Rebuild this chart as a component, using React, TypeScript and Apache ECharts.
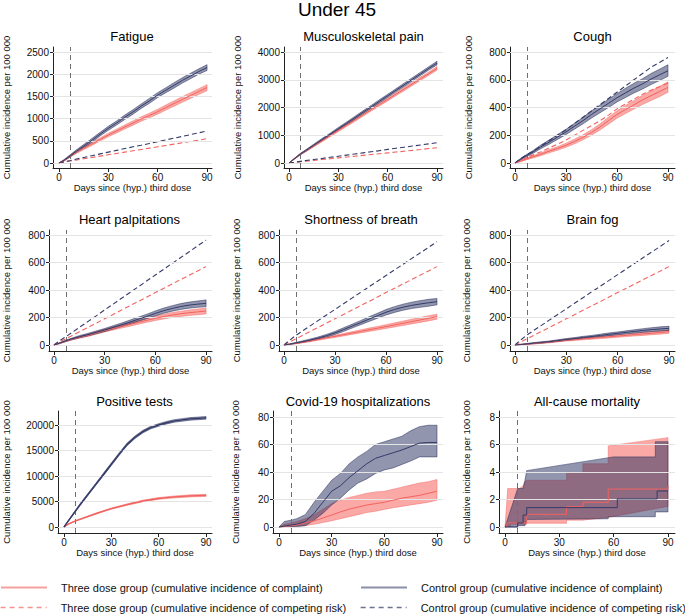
import React, { useEffect, useRef } from "react";
import * as echarts from "echarts";

// ---------- data ----------
const DAYS = [0, 3, 7, 10, 15, 20, 25, 30, 35, 40, 45, 50, 55, 60, 65, 70, 75, 80, 85, 90];
const X_TICKS = [0, 30, 60, 90];

const N_R = "Three dose group (cumulative incidence of complaint)";
const N_N = "Control group (cumulative incidence of complaint)";
const N_RC = "Three dose group (cumulative incidence of competing risk)";
const N_NC = "Control group (cumulative incidence of competing risk)";

// Fatigue
const fatNMid = [0, 60, 165, 250, 380, 510, 650, 780, 900, 1030, 1150, 1280, 1400, 1530, 1640, 1750, 1860, 1960, 2060, 2150];
const fatNLo = [0, 45, 140, 220, 345, 470, 610, 735, 855, 980, 1100, 1230, 1345, 1475, 1585, 1690, 1800, 1900, 2000, 2085];
const fatNUp = [0, 75, 190, 280, 415, 550, 690, 825, 945, 1080, 1200, 1330, 1455, 1585, 1695, 1810, 1920, 2020, 2120, 2215];
const fatRMid = [0, 55, 160, 230, 330, 430, 530, 630, 720, 810, 900, 990, 1070, 1155, 1250, 1340, 1430, 1520, 1610, 1700];
const fatRLo = [0, 42, 138, 205, 300, 395, 495, 590, 678, 765, 852, 940, 1018, 1100, 1192, 1280, 1368, 1455, 1545, 1630];
const fatRUp = [0, 68, 182, 255, 360, 465, 565, 670, 762, 855, 948, 1040, 1122, 1210, 1308, 1400, 1492, 1585, 1675, 1765];
const fatNComp = [0, 25, 55, 85, 125, 165, 205, 245, 285, 325, 365, 400, 440, 480, 520, 560, 600, 640, 680, 720];
const fatRComp = [0, 20, 45, 65, 95, 125, 155, 185, 215, 245, 275, 305, 335, 365, 395, 425, 455, 485, 515, 550];

// Musculoskeletal pain
const musNMid = [0, 140, 325, 440, 640, 840, 1035, 1235, 1430, 1630, 1830, 2025, 2225, 2420, 2620, 2815, 3015, 3210, 3410, 3600];
const musNLo = [0, 125, 300, 410, 605, 800, 995, 1190, 1385, 1580, 1780, 1975, 2170, 2365, 2565, 2755, 2955, 3150, 3350, 3535];
const musNUp = [0, 155, 350, 470, 675, 880, 1075, 1280, 1475, 1680, 1880, 2075, 2280, 2475, 2675, 2875, 3075, 3270, 3470, 3665];
const musRMid = [0, 138, 320, 430, 615, 800, 990, 1175, 1360, 1545, 1735, 1920, 2105, 2290, 2480, 2665, 2850, 3035, 3220, 3410];
const musRLo = [0, 123, 295, 400, 580, 760, 950, 1130, 1315, 1495, 1685, 1870, 2050, 2235, 2425, 2605, 2790, 2975, 3160, 3345];
const musRUp = [0, 153, 345, 460, 650, 840, 1030, 1220, 1405, 1595, 1785, 1970, 2160, 2345, 2535, 2725, 2910, 3095, 3280, 3475];
const musNComp = [0, 25, 60, 85, 125, 165, 205, 245, 285, 325, 365, 405, 445, 490, 530, 570, 610, 650, 690, 730];
const musRComp = [0, 20, 45, 65, 95, 125, 155, 185, 215, 245, 275, 305, 335, 365, 395, 425, 455, 485, 520, 550];

// Cough
const cghNMid = [0, 25, 55, 75, 115, 150, 187, 224, 265, 305, 350, 390, 430, 470, 505, 540, 570, 605, 635, 665];
const cghNLo = [0, 20, 47, 65, 102, 135, 170, 205, 244, 282, 324, 362, 400, 440, 472, 505, 533, 565, 594, 625];
const cghNUp = [0, 30, 63, 85, 128, 165, 204, 243, 286, 328, 376, 418, 460, 500, 538, 575, 607, 645, 676, 708];
const cghRMid = [0, 12, 30, 42, 62, 85, 105, 128, 155, 185, 220, 260, 305, 350, 385, 420, 455, 485, 515, 545];
const cghRLo = [0, 8, 24, 34, 52, 73, 92, 113, 138, 167, 200, 238, 280, 323, 356, 389, 422, 450, 478, 510];
const cghRUp = [0, 16, 36, 50, 72, 97, 118, 143, 172, 203, 240, 282, 330, 377, 414, 451, 488, 520, 552, 585];
const cghNComp = [0, 30, 60, 80, 120, 160, 200, 240, 285, 330, 375, 420, 465, 510, 555, 600, 645, 690, 725, 760];
const cghRComp = [0, 18, 40, 55, 80, 108, 135, 165, 200, 235, 270, 305, 345, 390, 425, 460, 495, 525, 550, 575];

// Heart palpitations
const hrtNMid = [0, 12, 30, 42, 60, 75, 92, 109, 128, 147, 167, 188, 208, 230, 250, 266, 280, 290, 297, 303];
const hrtNLo = [0, 9, 25, 36, 52, 66, 82, 98, 116, 134, 153, 173, 192, 212, 231, 246, 259, 268, 274, 278];
const hrtNUp = [0, 15, 35, 48, 68, 84, 102, 120, 140, 160, 181, 203, 224, 248, 269, 286, 301, 312, 320, 328];
const hrtRMid = [0, 11, 28, 40, 56, 70, 87, 105, 120, 135, 150, 165, 180, 194, 207, 218, 227, 235, 241, 247];
const hrtRLo = [0, 8, 24, 35, 49, 62, 78, 95, 109, 123, 137, 151, 165, 178, 190, 200, 208, 215, 220, 226];
const hrtRUp = [0, 14, 32, 45, 63, 78, 96, 115, 131, 147, 163, 179, 195, 210, 224, 236, 246, 255, 262, 268];
const hrtNComp = [0, 28, 60, 85, 128, 170, 212, 255, 297, 340, 382, 424, 467, 509, 551, 594, 636, 678, 721, 763];
const hrtRComp = [0, 20, 45, 64, 96, 127, 159, 191, 222, 254, 286, 317, 349, 381, 412, 444, 476, 507, 539, 570];

// Shortness of breath
const sobNMid = [0, 5, 15, 22, 35, 50, 68, 88, 112, 137, 162, 188, 213, 238, 258, 275, 288, 298, 307, 315];
const sobNLo = [0, 3, 11, 17, 28, 42, 59, 77, 99, 123, 147, 171, 195, 218, 237, 253, 265, 274, 282, 292];
const sobNUp = [0, 7, 19, 27, 42, 58, 77, 99, 125, 151, 177, 205, 231, 258, 279, 297, 311, 322, 332, 338];
const sobRMid = [0, 5, 12, 18, 28, 40, 52, 63, 75, 87, 99, 111, 122, 134, 146, 158, 170, 182, 194, 206];
const sobRLo = [0, 3, 9, 14, 23, 34, 45, 55, 66, 77, 88, 99, 109, 120, 131, 142, 153, 164, 175, 188];
const sobRUp = [0, 7, 15, 22, 33, 46, 59, 71, 84, 97, 110, 123, 135, 148, 161, 174, 187, 200, 213, 224];
const sobNComp = [0, 32, 70, 95, 136, 177, 218, 259, 300, 341, 382, 423, 464, 505, 546, 587, 628, 669, 710, 751];
const sobRComp = [0, 20, 45, 64, 96, 127, 159, 191, 222, 254, 286, 317, 349, 381, 412, 444, 476, 507, 539, 570];

// Brain fog
const bfNMid = [0, 3, 8, 12, 18, 24, 32, 40, 47, 55, 62, 70, 78, 85, 92, 99, 106, 112, 117, 121];
const bfNLo = [0, 1, 5, 8, 13, 19, 26, 33, 40, 47, 54, 61, 68, 75, 81, 87, 93, 98, 102, 106];
const bfNUp = [0, 5, 11, 16, 23, 29, 38, 47, 54, 63, 70, 79, 88, 95, 103, 111, 119, 126, 132, 136];
const bfRMid = [0, 3, 7, 10, 15, 21, 28, 35, 40, 45, 50, 55, 60, 65, 70, 76, 81, 86, 91, 97];
const bfRLo = [0, 1, 4, 7, 11, 16, 22, 29, 33, 38, 42, 47, 51, 56, 61, 66, 70, 75, 79, 85];
const bfRUp = [0, 5, 10, 13, 19, 26, 34, 41, 47, 52, 58, 63, 69, 74, 79, 86, 92, 97, 103, 109];
const bfNComp = [0, 33, 73, 98, 139, 181, 222, 263, 305, 346, 388, 429, 470, 512, 553, 594, 636, 677, 718, 760];
const bfRComp = [0, 20, 45, 64, 96, 127, 159, 191, 222, 254, 286, 317, 349, 381, 412, 444, 476, 507, 539, 570];

// Positive tests
const posNMid = [0, 1300, 3000, 4300, 6300, 8300, 10300, 12300, 14300, 16200, 17600, 18700, 19500, 20000, 20450, 20800, 21000, 21200, 21300, 21400];
const posNLo = [0, 1200, 2850, 4100, 6100, 8100, 10050, 12050, 14050, 15950, 17350, 18450, 19250, 19750, 20200, 20550, 20750, 20950, 21050, 21150];
const posNUp = [0, 1400, 3150, 4500, 6500, 8500, 10550, 12550, 14550, 16450, 17850, 18950, 19750, 20250, 20700, 21050, 21250, 21450, 21550, 21650];
const posRMid = [0, 600, 1150, 1500, 2050, 2600, 3100, 3600, 4000, 4400, 4750, 5100, 5350, 5600, 5750, 5900, 6000, 6100, 6150, 6200];
const posRLo = [0, 550, 1080, 1420, 1960, 2500, 2990, 3480, 3870, 4260, 4600, 4940, 5180, 5420, 5570, 5710, 5800, 5900, 5950, 5990];
const posRUp = [0, 650, 1220, 1580, 2140, 2700, 3210, 3720, 4130, 4540, 4900, 5260, 5520, 5780, 5930, 6090, 6200, 6300, 6350, 6410];

// Covid-19 hospitalizations
const hosNMid = [0, 0.6, 1.5, 2, 4, 10, 18, 26, 30, 36, 41, 46, 50, 52, 54, 56, 58.5, 61, 61.5, 61.5];
const hosNLo = [0, 0, 0, 0.3, 1, 5, 10, 16, 21, 27, 32, 35, 39, 41.5, 43, 45.5, 48, 51, 51, 51];
const hosNUp = [0, 4, 5, 6, 9, 18, 26, 34, 39, 46, 51, 55, 60, 62, 64, 66, 70, 73, 74, 74];
const hosRMid = [0, 0.3, 1, 1.5, 3, 4.5, 6.5, 8.7, 11, 13, 14.5, 16, 17, 18, 19.5, 21, 22, 23, 24.5, 26];
const hosRLo = [0, 0, 0.2, 0.5, 1, 2, 3.2, 4.5, 6, 7.5, 9, 10.5, 11.5, 12.8, 14, 15, 16, 17, 18, 19.5];
const hosRUp = [0, 2, 3, 4, 6, 9, 13, 17, 19.5, 21.5, 23, 24.5, 25.5, 26, 27.5, 29, 30.5, 32, 33, 34.5];

// All-cause mortality ([day, value] step points)
const morRMid = [[0, 0], [1, 0], [1, 0.3], [12, 0.3], [12, 0.92], [34, 0.92], [34, 1.48], [43, 1.48], [43, 1.8], [57, 1.8], [57, 2.76], [90, 2.76], [90, 3.0]];
const morRUp = [[0, 0], [1.5, 2.8], [8, 2.8], [10, 3.0], [11, 3.3], [12, 3.4], [34, 3.4], [34, 3.9], [43, 3.9], [43, 4.6], [57, 4.6], [57, 5.9], [90, 6.5]];
const morRLo = [[0, 0], [3, 0], [3, 0.2], [12, 0.2], [12, 0.27], [34, 0.27], [34, 0.5], [43, 0.5], [57, 0.7], [90, 1.5]];
const morNMid = [[0, 0], [7, 0], [7, 0.3], [10, 0.3], [10, 0.87], [12, 0.87], [12, 1.41], [62, 1.41], [62, 2.04], [84, 2.04], [84, 2.62], [90, 2.62]];
const morNUp = [[0, 0], [7, 2.8], [10, 2.8], [11, 3.4], [12, 4.1], [60, 5.1], [83, 5.1], [83, 6.2], [90, 6.2]];
const morNLo = [[0, 0], [7, 0], [7, 0.1], [11, 0.1], [12, 0.55], [57, 0.6], [57, 0.75], [83, 0.75], [83, 1.1], [90, 1.1]];

const Y_TICKS_FAT = [0, 500, 1000, 1500, 2000, 2500];
const Y_TICKS_MUS = [0, 1000, 2000, 3000, 4000];
const Y_TICKS_800 = [0, 200, 400, 600, 800];
const Y_TICKS_POS = [0, 5000, 10000, 15000, 20000];
const Y_TICKS_HOS = [0, 20, 40, 60, 80];
const Y_TICKS_MOR = [0, 2, 4, 6, 8];

// ---------- styles ----------
const FONT = "Liberation Sans, Arial, Helvetica, sans-serif";
const RED = "#f2625e";
const NAVY = "#343b69";
const RED_BAND = "rgba(248,90,85,0.52)";
const RED_EDGE = "rgba(240,95,90,0.55)";
const NAVY_BAND = "rgba(40,48,95,0.51)";
const NAVY_EDGE = "rgba(40,46,90,0.65)";

const pairs = (vals: number[]) => DAYS.map((d, i) => [d, vals[i]]);

type Layout = { gl: number; gr: number; x0: number; x90: number; top: number; bottom: number; y0: number; yT: number; nameGap: number };

const ROW1 = { top: 47, bottom: 168, y0: 163, yT: 52 };
const ROW2 = { top: 230, bottom: 351, y0: 345, yT: 235 };
const ROW3 = { top: 411, bottom: 533, y0: 527 };

const panels: any[] = [
  { title: "Fatigue", titleTop: 30, yTicks: Y_TICKS_FAT, L: { gl: 52, gr: 212, x0: 58, x90: 207, ...ROW1, nameGap: 42 },
    rBand: [pairs(fatRUp), pairs(fatRLo)], nBand: [pairs(fatNUp), pairs(fatNLo)],
    rMid: pairs(fatRMid), nMid: pairs(fatNMid), rComp: pairs(fatRComp), nComp: pairs(fatNComp) },
  { title: "Musculoskeletal pain", titleTop: 30, yTicks: Y_TICKS_MUS, L: { gl: 284, gr: 443, x0: 289, x90: 437, ...ROW1, nameGap: 42 },
    rBand: [pairs(musRUp), pairs(musRLo)], nBand: [pairs(musNUp), pairs(musNLo)],
    rMid: pairs(musRMid), nMid: pairs(musNMid), rComp: pairs(musRComp), nComp: pairs(musNComp) },
  { title: "Cough", titleTop: 30, yTicks: Y_TICKS_800, L: { gl: 510, gr: 675, x0: 515, x90: 668, ...ROW1, nameGap: 37 },
    rBand: [pairs(cghRUp), pairs(cghRLo)], nBand: [pairs(cghNUp), pairs(cghNLo)],
    rMid: pairs(cghRMid), nMid: pairs(cghNMid), rComp: pairs(cghRComp), nComp: pairs(cghNComp) },
  { title: "Heart palpitations", titleTop: 213, yTicks: Y_TICKS_800, L: { gl: 47, gr: 212, x0: 52, x90: 206, ...ROW2, nameGap: 38 },
    rBand: [pairs(hrtRUp), pairs(hrtRLo)], nBand: [pairs(hrtNUp), pairs(hrtNLo)],
    rMid: pairs(hrtRMid), nMid: pairs(hrtNMid), rComp: pairs(hrtRComp), nComp: pairs(hrtNComp) },
  { title: "Shortness of breath", titleTop: 213, yTicks: Y_TICKS_800, L: { gl: 279, gr: 443, x0: 284, x90: 437, ...ROW2, nameGap: 38 },
    rBand: [pairs(sobRUp), pairs(sobRLo)], nBand: [pairs(sobNUp), pairs(sobNLo)],
    rMid: pairs(sobRMid), nMid: pairs(sobNMid), rComp: pairs(sobRComp), nComp: pairs(sobNComp) },
  { title: "Brain fog", titleTop: 213, yTicks: Y_TICKS_800, L: { gl: 510, gr: 675, x0: 515, x90: 669, ...ROW2, nameGap: 39 },
    rBand: [pairs(bfRUp), pairs(bfRLo)], nBand: [pairs(bfNUp), pairs(bfNLo)],
    rMid: pairs(bfRMid), nMid: pairs(bfNMid), rComp: pairs(bfRComp), nComp: pairs(bfNComp) },
  { title: "Positive tests", titleTop: 395, yTicks: Y_TICKS_POS, L: { gl: 57, gr: 212, x0: 63, x90: 206, ...ROW3, yT: 425, nameGap: 47 },
    rBand: [pairs(posRUp), pairs(posRLo)], nBand: [pairs(posNUp), pairs(posNLo)],
    rMid: pairs(posRMid), nMid: pairs(posNMid), midWidth: 1.4 },
  { title: "Covid-19 hospitalizations", titleTop: 395, yTicks: Y_TICKS_HOS, L: { gl: 273, gr: 443, x0: 279, x90: 437, ...ROW3, yT: 417, nameGap: 33 },
    rBand: [pairs(hosRUp), pairs(hosRLo)], nBand: [pairs(hosNUp), pairs(hosNLo)],
    rMid: pairs(hosRMid), nMid: pairs(hosNMid) },
  { title: "All-cause mortality", titleTop: 395, yTicks: Y_TICKS_MOR, L: { gl: 499, gr: 675, x0: 505, x90: 668, ...ROW3, yT: 417, nameGap: 28 },
    rBand: [morRUp, morRLo], nBand: [morNUp, morNLo],
    rMid: morRMid, nMid: morNMid },
];

function buildOption() {
  const grid: any[] = [];
  const xAxis: any[] = [];
  const yAxis: any[] = [];
  const series: any[] = [];
  const title: any[] = [
    { text: "Under 45", left: 337, textAlign: "center", top: 0, padding: 0,
      textStyle: { fontSize: 19, fontWeight: "normal", color: "#000", fontFamily: FONT } },
  ];

  panels.forEach((p, i) => {
    const L: Layout = p.L;
    const yTop = p.yTicks[p.yTicks.length - 1];
    const xs = (L.x90 - L.x0) / 90;
    const xMin = -(L.x0 - L.gl) / xs;
    const xMax = 90 + (L.gr - L.x90) / xs;
    const ys = (L.y0 - L.yT) / yTop;
    const yMin = -(L.bottom - L.y0) / ys;
    const yMax = yTop + (L.yT - L.top) / ys;

    grid.push({ left: L.gl, top: L.top, width: L.gr - L.gl, height: L.bottom - L.top });
    title.push({ text: p.title, left: (L.gl + L.gr) / 2, textAlign: "center", top: p.titleTop, padding: 0,
      textStyle: { fontSize: 13, fontWeight: "normal", color: "#000", fontFamily: FONT } });

    xAxis.push({
      type: "value", gridIndex: i, min: xMin, max: xMax,
      axisLine: { show: true, onZero: false, lineStyle: { color: "#222", width: 1 } },
      axisTick: { show: true, customValues: X_TICKS, length: 4, lineStyle: { color: "#222" } },
      axisLabel: { customValues: X_TICKS, margin: 4, fontSize: 10, color: "#111", fontFamily: FONT, formatter: (v: number) => String(v) },
      splitLine: { show: false },
      name: "Days since (hyp.) third dose", nameLocation: "middle", nameGap: 14,
      nameTextStyle: { fontSize: 9.5, color: "#111", fontFamily: FONT },
    });
    yAxis.push({
      type: "value", gridIndex: i, min: yMin, max: yMax,
      axisLine: { show: true, onZero: false, lineStyle: { color: "#222", width: 1 } },
      axisTick: { show: true, customValues: p.yTicks, length: 3, lineStyle: { color: "#222" } },
      axisLabel: { customValues: p.yTicks, margin: 4, fontSize: 10, color: "#111", fontFamily: FONT, formatter: (v: number) => String(v) },
      splitLine: { show: false },
      name: "Cumulative incidence per 100 000", nameLocation: "middle", nameGap: L.nameGap,
      nameTextStyle: { fontSize: 9.5, color: "#111", fontFamily: FONT },
    });

    // gridlines
    series.push({
      type: "line", xAxisIndex: i, yAxisIndex: i, data: [[0, 0]], symbol: "none", silent: true, z: 0,
      lineStyle: { width: 0, opacity: 0 },
      markLine: {
        silent: true, symbol: ["none", "none"], label: { show: false }, animation: false,
        lineStyle: { color: "#e4e4e4", width: 1, type: "solid" },
        emphasis: { disabled: true },
        data: p.yTicks.map((v: number) => ({ yAxis: v })),
      },
    });

    const band = (bd: any[], fill: string, stroke: string, z: number) => ({
      type: "custom", xAxisIndex: i, yAxisIndex: i, silent: true, z, data: [[0, 0]], clip: true,
      renderItem: (_params: any, api: any) => {
        const up = bd[0].map((pt: number[]) => api.coord(pt));
        const lo = bd[1].slice().reverse().map((pt: number[]) => api.coord(pt));
        return { type: "polygon", shape: { points: up.concat(lo) }, style: { fill, stroke, lineWidth: 0.8 } };
      },
    });
    series.push(band(p.rBand, RED_BAND, RED_EDGE, 2));
    series.push(band(p.nBand, NAVY_BAND, NAVY_EDGE, 3));

    const line = (name: string, data: any[], color: string, dashed: boolean, z: number, width = 1) => ({
      type: "line", name, xAxisIndex: i, yAxisIndex: i, data, symbol: "none", showSymbol: false, z,
      silent: true, clip: true,
      lineStyle: { color, width, type: dashed ? [5, 3] : "solid" },
      itemStyle: { color },
    });
    if (p.rComp) series.push(line(N_RC, p.rComp, RED, true, 4, 1.1));
    if (p.nComp) series.push(line(N_NC, p.nComp, NAVY, true, 4, 1.1));
    series.push(line(N_R, p.rMid, RED, false, 5, p.midWidth || 1));
    series.push(line(N_N, p.nMid, NAVY, false, 5, p.midWidth || 1));

    // reference line at day 7
    series.push({
      type: "line", xAxisIndex: i, yAxisIndex: i, data: [[0, 0]], symbol: "none", silent: true, z: 6,
      lineStyle: { width: 0, opacity: 0 },
      markLine: {
        silent: true, symbol: ["none", "none"], label: { show: false }, animation: false,
        lineStyle: { color: "#6f6f6f", width: 1, type: [5, 4] },
        emphasis: { disabled: true },
        data: [{ xAxis: 7 }],
      },
    });
  });

  const hidden = { color: "rgba(0,0,0,0)", opacity: 0, borderWidth: 0, borderColor: "rgba(0,0,0,0)" };
  const legendCommon = {
    itemWidth: 46, itemHeight: 12, padding: 0, selectedMode: false,
    itemStyle: hidden,
    textStyle: { fontSize: 11, color: "#111", fontFamily: FONT, padding: [0, 0, 0, 9] },
  };
  const legend = [
    { ...legendCommon, left: 0, top: 582, data: [{ name: N_R, itemStyle: hidden, lineStyle: { color: "#f5a19d", width: 2 } }] },
    { ...legendCommon, left: 360, top: 582, data: [{ name: N_N, itemStyle: hidden, lineStyle: { color: "#8b8fa9", width: 2 } }] },
    { ...legendCommon, left: 0, top: 602, data: [{ name: N_RC, itemStyle: hidden, lineStyle: { color: "#f3928e", width: 1.3, type: [5, 4] } }] },
    { ...legendCommon, left: 360, top: 602, data: [{ name: N_NC, itemStyle: hidden, lineStyle: { color: "#6d7292", width: 1.3, type: [5, 4] } }] },
  ];

  return {
    animation: false,
    backgroundColor: "#fff",
    textStyle: { fontFamily: FONT },
    title, grid, xAxis, yAxis, series, legend,
  };
}

export default function App() {
  const ref = useRef<HTMLDivElement>(null);
  useEffect(() => {
    if (!ref.current) return;
    const chart = echarts.init(ref.current, undefined, { renderer: "svg" });
    chart.setOption(buildOption() as any);
    return () => chart.dispose();
  }, []);
  return <div ref={ref} style={{ position: "fixed", left: 0, top: 0, width: 685, height: 615, background: "#fff" }} />;
}
